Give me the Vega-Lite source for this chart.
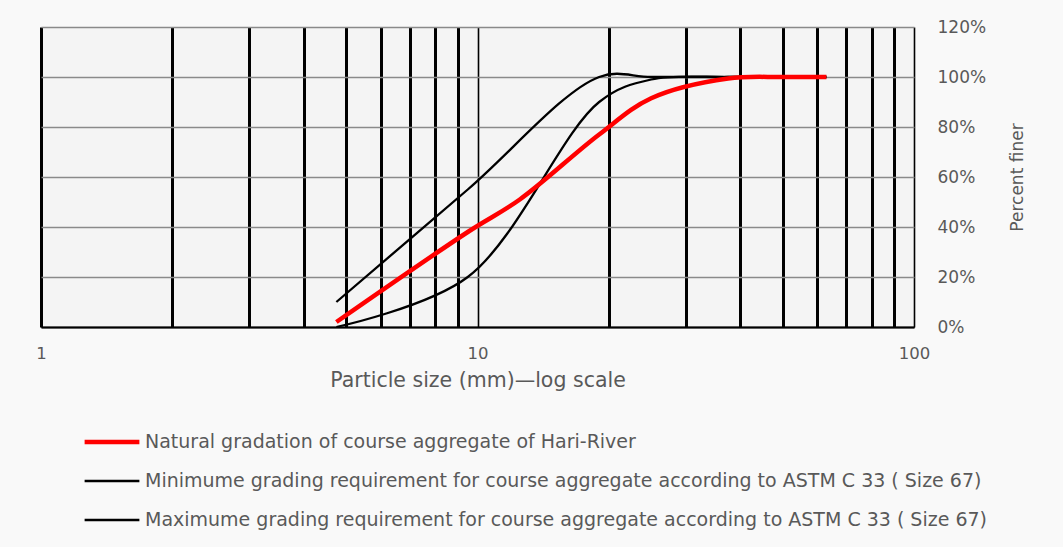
{
  "$schema": "https://vega.github.io/schema/vega-lite/v6.json",
  "width": 873,
  "height": 300,
  "autosize": {"type": "none"},
  "padding": {"left": 41, "top": 27, "right": 149, "bottom": 220},
  "background": "#f9f9f9",
  "config": {"view": {"stroke": null, "fill": "#f4f4f4"}, "font": "DejaVu Sans"},
  "data": {"values": [
    {"series": "Natural gradation of course aggregate of Hari-River", "size": 4.75, "pct": 2},
    {"series": "Natural gradation of course aggregate of Hari-River", "size": 9.5, "pct": 38},
    {"series": "Natural gradation of course aggregate of Hari-River", "size": 12.5, "pct": 51},
    {"series": "Natural gradation of course aggregate of Hari-River", "size": 19, "pct": 77},
    {"series": "Natural gradation of course aggregate of Hari-River", "size": 25, "pct": 91.5},
    {"series": "Natural gradation of course aggregate of Hari-River", "size": 37.5, "pct": 99.4},
    {"series": "Natural gradation of course aggregate of Hari-River", "size": 50, "pct": 100},
    {"series": "Natural gradation of course aggregate of Hari-River", "size": 63, "pct": 100},
    {"series": "Minimume grading requirement for course aggregate according to ASTM C 33 ( Size 67)", "size": 4.75, "pct": 0},
    {"series": "Minimume grading requirement for course aggregate according to ASTM C 33 ( Size 67)", "size": 9.5, "pct": 20},
    {"series": "Minimume grading requirement for course aggregate according to ASTM C 33 ( Size 67)", "size": 19, "pct": 90},
    {"series": "Minimume grading requirement for course aggregate according to ASTM C 33 ( Size 67)", "size": 25, "pct": 99},
    {"series": "Minimume grading requirement for course aggregate according to ASTM C 33 ( Size 67)", "size": 37.5, "pct": 100},
    {"series": "Minimume grading requirement for course aggregate according to ASTM C 33 ( Size 67)", "size": 50, "pct": 100},
    {"series": "Minimume grading requirement for course aggregate according to ASTM C 33 ( Size 67)", "size": 63, "pct": 100},
    {"series": "Maximume grading requirement for course aggregate according to ASTM C 33 ( Size 67)", "size": 4.75, "pct": 10},
    {"series": "Maximume grading requirement for course aggregate according to ASTM C 33 ( Size 67)", "size": 9.5, "pct": 55},
    {"series": "Maximume grading requirement for course aggregate according to ASTM C 33 ( Size 67)", "size": 19, "pct": 100},
    {"series": "Maximume grading requirement for course aggregate according to ASTM C 33 ( Size 67)", "size": 25, "pct": 100},
    {"series": "Maximume grading requirement for course aggregate according to ASTM C 33 ( Size 67)", "size": 37.5, "pct": 100},
    {"series": "Maximume grading requirement for course aggregate according to ASTM C 33 ( Size 67)", "size": 50, "pct": 100},
    {"series": "Maximume grading requirement for course aggregate according to ASTM C 33 ( Size 67)", "size": 63, "pct": 100}
  ]},
  "encoding": {
    "x": {
      "field": "size", "type": "quantitative",
      "scale": {"type": "log", "domain": [1, 100], "nice": false},
      "axis": {
        "values": [1, 2, 3, 4, 5, 6, 7, 8, 9, 10, 20, 30, 40, 50, 60, 70, 80, 90, 100],
        "labelExpr": "datum.value == 1 || datum.value == 10 || datum.value == 100 ? datum.label : ''",
        "grid": true, "gridColor": "#000000", "gridOpacity": 1,
        "gridWidth": {"condition": {"test": "datum.value == 10 || datum.value == 100", "value": 1.6}, "value": 3},
        "ticks": false, "domain": true, "domainColor": "#000000", "domainWidth": 2,
        "labelFontSize": 16.5, "labelColor": "#595959", "labelPadding": 18, "labelFlush": false, "labelOverlap": false,
        "title": "Particle size (mm)—log scale", "titleFontSize": 20.5, "titleFontWeight": "normal",
        "titleColor": "#595959", "titlePadding": 9
      }
    },
    "y": {
      "field": "pct", "type": "quantitative",
      "scale": {"domain": [0, 120], "nice": false},
      "axis": {
        "orient": "right", "values": [0, 20, 40, 60, 80, 100, 120],
        "labelExpr": "datum.value + '%'",
        "grid": true, "gridColor": {"condition": {"test": "datum.value == 0", "value": "#000000"}, "value": "#8a8a8a"},
        "gridWidth": 1.6, "gridOpacity": 1,
        "domain": false, "ticks": false, "labelAlign": "left", "labelPadding": 23,
        "labelFontSize": 17, "labelColor": "#595959", "labelFlush": false,
        "title": "Percent finer", "titleFontSize": 17, "titleFontWeight": "normal", "titleColor": "#595959",
        "titleAngle": 270, "titlePadding": 41
      }
    },
    "stroke": {
      "field": "series", "type": "nominal",
      "scale": {
        "domain": ["Natural gradation of course aggregate of Hari-River", "Minimume grading requirement for course aggregate according to ASTM C 33 ( Size 67)", "Maximume grading requirement for course aggregate according to ASTM C 33 ( Size 67)"],
        "range": ["#ff0000", "#000000", "#000000"]
      },
      "legend": {
        "orient": "none", "legendX": 41, "legendY": 385, "direction": "vertical", "title": null,
        "symbolType": "stroke", "symbolSize": 3000, "labelFontSize": 19, "labelColor": "#595959",
        "labelLimit": 2000, "rowPadding": 0, "labelOffset": 3
      }
    },
    "strokeWidth": {
      "field": "series", "type": "nominal",
      "scale": {
        "type": "ordinal",
        "domain": ["Natural gradation of course aggregate of Hari-River", "Minimume grading requirement for course aggregate according to ASTM C 33 ( Size 67)", "Maximume grading requirement for course aggregate according to ASTM C 33 ( Size 67)"],
        "range": [4.5, 2.3, 2.3]
      },
      "legend": {
        "orient": "none", "legendX": 41, "legendY": 385, "direction": "vertical", "title": null,
        "symbolType": "stroke", "symbolSize": 3000, "labelFontSize": 19, "labelColor": "#595959",
        "labelLimit": 2000, "rowPadding": 0, "labelOffset": 3
      }
    }
  },
  "layer": [
    {
      "transform": [{"filter": "datum.series != 'Natural gradation of course aggregate of Hari-River'"}],
      "mark": {"type": "line", "interpolate": "catmull-rom"}
    },
    {
      "transform": [{"filter": "datum.series == 'Natural gradation of course aggregate of Hari-River'"}],
      "mark": {"type": "line", "interpolate": "catmull-rom"}
    }
  ]
}
